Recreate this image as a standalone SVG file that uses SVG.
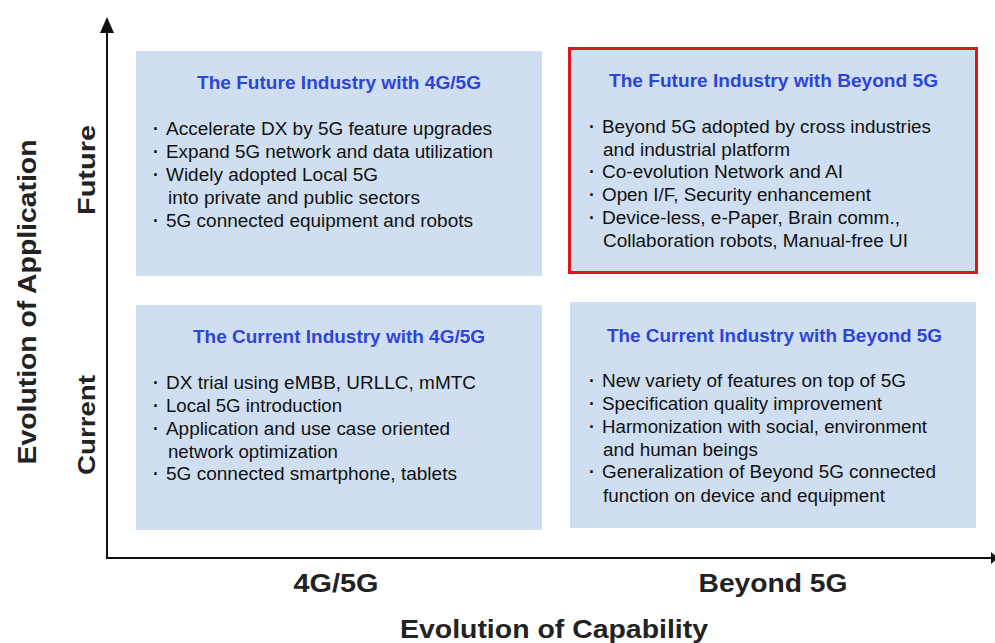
<svg xmlns="http://www.w3.org/2000/svg" width="995" height="643" viewBox="0 0 995 643">
<style>
.box{fill:#cfdff1;}
.title{font-family:"Liberation Sans",Arial,sans-serif;font-weight:bold;font-size:18px;fill:#2f45d6;}
.body{font-family:"Liberation Sans",Arial,sans-serif;font-size:17.5px;fill:#111;}
.dot{font-family:"Liberation Sans",Arial,sans-serif;font-size:17.5px;font-weight:bold;fill:#111;}
.axis{font-family:"Liberation Sans",Arial,sans-serif;font-weight:bold;fill:#222;}
.ax{stroke:#111;stroke-width:2;fill:none;}
</style>
<g id="connectors">
<path d="M107,33 L107,558 L992,558" class="ax"/>
<path d="M100,33 L107,17 L114,33 z" fill="#111"/>
<path d="M991,552 L998,558 L991,564 z" fill="#111"/>
</g>
<g id="tl">
<rect class="box" x="136" y="51" width="406" height="225"/>
<text class="title" x="197" y="89" textLength="284" lengthAdjust="spacingAndGlyphs">The Future Industry with 4G/5G</text>
<text class="dot"><tspan x="153" y="135">·</tspan><tspan x="153" y="158">·</tspan><tspan x="153" y="181">·</tspan><tspan x="153" y="227">·</tspan></text>
<text class="body" x="166" y="135" textLength="326" lengthAdjust="spacingAndGlyphs">Accelerate DX by 5G feature upgrades</text>
<text class="body" x="166" y="158" textLength="327" lengthAdjust="spacingAndGlyphs">Expand 5G network and data utilization</text>
<text class="body" x="166" y="181" textLength="212" lengthAdjust="spacingAndGlyphs">Widely adopted Local 5G</text>
<text class="body" x="168" y="204" textLength="252" lengthAdjust="spacingAndGlyphs">into private and public sectors</text>
<text class="body" x="166" y="227" textLength="307" lengthAdjust="spacingAndGlyphs">5G connected equipment and robots</text>
</g>
<g id="tr">
<rect class="box" x="569.5" y="48.5" width="407" height="224" stroke="#e0141c" stroke-width="3"/>
<text class="title" x="609" y="87" textLength="329" lengthAdjust="spacingAndGlyphs">The Future Industry with Beyond 5G</text>
<text class="dot"><tspan x="589" y="133">·</tspan><tspan x="589" y="178">·</tspan><tspan x="589" y="201">·</tspan><tspan x="589" y="224">·</tspan></text>
<text class="body" x="602" y="133" textLength="329" lengthAdjust="spacingAndGlyphs">Beyond 5G adopted by cross industries</text>
<text class="body" x="603" y="156" textLength="187" lengthAdjust="spacingAndGlyphs">and industrial platform</text>
<text class="body" x="602" y="178" textLength="241" lengthAdjust="spacingAndGlyphs">Co-evolution Network and AI</text>
<text class="body" x="602" y="201" textLength="269" lengthAdjust="spacingAndGlyphs">Open I/F, Security enhancement</text>
<text class="body" x="602" y="224" textLength="298" lengthAdjust="spacingAndGlyphs">Device-less, e-Paper, Brain comm.,</text>
<text class="body" x="603" y="247" textLength="305" lengthAdjust="spacingAndGlyphs">Collaboration robots, Manual-free UI</text>
</g>
<g id="bl">
<rect class="box" x="136" y="305" width="406" height="225"/>
<text class="title" x="193" y="343" textLength="292" lengthAdjust="spacingAndGlyphs">The Current Industry with 4G/5G</text>
<text class="dot"><tspan x="153" y="389">·</tspan><tspan x="153" y="412">·</tspan><tspan x="153" y="435">·</tspan><tspan x="153" y="480">·</tspan></text>
<text class="body" x="166" y="389" textLength="310" lengthAdjust="spacingAndGlyphs">DX trial using eMBB, URLLC, mMTC</text>
<text class="body" x="166" y="412" textLength="176" lengthAdjust="spacingAndGlyphs">Local 5G introduction</text>
<text class="body" x="166" y="435" textLength="284" lengthAdjust="spacingAndGlyphs">Application and use case oriented</text>
<text class="body" x="168" y="458" textLength="170" lengthAdjust="spacingAndGlyphs">network optimization</text>
<text class="body" x="166" y="480" textLength="291" lengthAdjust="spacingAndGlyphs">5G connected smartphone, tablets</text>
</g>
<g id="br">
<rect class="box" x="570" y="302" width="406" height="226"/>
<text class="title" x="607" y="342" textLength="335" lengthAdjust="spacingAndGlyphs">The Current Industry with Beyond 5G</text>
<text class="dot"><tspan x="589" y="387">·</tspan><tspan x="589" y="410">·</tspan><tspan x="589" y="433">·</tspan><tspan x="589" y="478">·</tspan></text>
<text class="body" x="602" y="387" textLength="304" lengthAdjust="spacingAndGlyphs">New variety of features on top of 5G</text>
<text class="body" x="602" y="410" textLength="280" lengthAdjust="spacingAndGlyphs">Specification quality improvement</text>
<text class="body" x="602" y="433" textLength="325" lengthAdjust="spacingAndGlyphs">Harmonization  with social, environment</text>
<text class="body" x="603" y="456" textLength="155" lengthAdjust="spacingAndGlyphs">and human beings</text>
<text class="body" x="602" y="478" textLength="334" lengthAdjust="spacingAndGlyphs">Generalization of Beyond 5G connected</text>
<text class="body" x="603" y="502" textLength="282" lengthAdjust="spacingAndGlyphs">function on device and equipment</text>
</g>
<g id="labels">
<text class="axis" font-size="23" text-anchor="middle" transform="translate(95,170) rotate(-90)" textLength="90" lengthAdjust="spacingAndGlyphs">Future</text>
<text class="axis" font-size="23" text-anchor="middle" transform="translate(95,425) rotate(-90)" textLength="100" lengthAdjust="spacingAndGlyphs">Current</text>
<text class="axis" font-size="26" text-anchor="middle" transform="translate(36,302) rotate(-90)" textLength="325" lengthAdjust="spacingAndGlyphs">Evolution of Application</text>
<text class="axis" font-size="25" text-anchor="middle" x="336" y="592" textLength="85" lengthAdjust="spacingAndGlyphs">4G/5G</text>
<text class="axis" font-size="25" text-anchor="middle" x="773" y="592" textLength="149" lengthAdjust="spacingAndGlyphs">Beyond 5G</text>
<text class="axis" font-size="26" text-anchor="middle" x="554" y="638" textLength="308" lengthAdjust="spacingAndGlyphs">Evolution of Capability</text>
</g>
</svg>
